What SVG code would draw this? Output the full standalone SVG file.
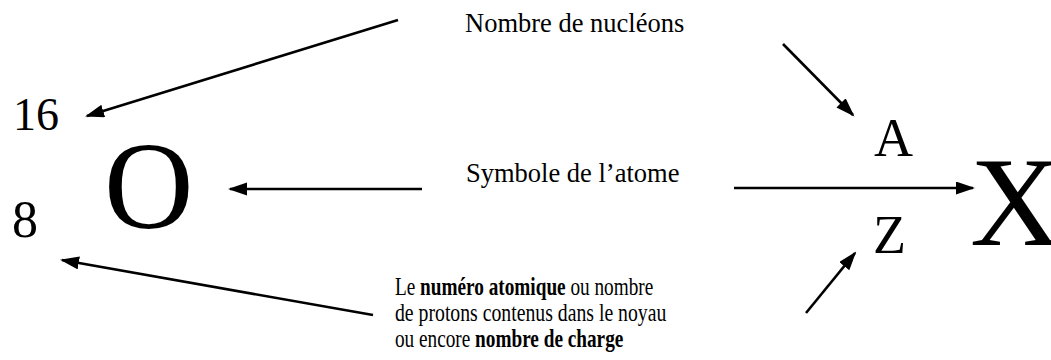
<svg xmlns="http://www.w3.org/2000/svg" width="1051" height="360" viewBox="0 0 1051 360">
  <style>
    text { font-family: "Liberation Serif", "Times New Roman", serif; fill: #000; }
    .lbl { font-size: 26.5px; }
    .small { font-size: 25px; }
    .b { font-weight: bold; }
    .arrow { stroke: #000; stroke-width: 2.6; fill: none; marker-end: url(#ah); }
  </style>
  <defs>
    <marker id="ah" markerUnits="userSpaceOnUse" markerWidth="20" markerHeight="14" refX="17" refY="6.5" orient="auto">
      <path d="M0,0 L19,6.5 L0,13 Z" fill="#000"/>
    </marker>
  </defs>
  <rect width="1051" height="360" fill="#fff"/>

  <g id="oxygen">
    <text x="13" y="130" font-size="46">16</text>
    <text x="12" y="237" font-size="52">8</text>
    <text x="104" y="228" font-size="124">O</text>
  </g>

  <g id="generic">
    <text x="874" y="156" font-size="54">A</text>
    <text x="873" y="253" font-size="54">Z</text>
    <text x="970" y="245" font-size="127">X</text>
  </g>

  <g id="label-nucleons">
    <text class="lbl" x="465" y="32">Nombre de nucléons</text>
  </g>

  <g id="label-symbole">
    <text class="lbl" x="466" y="182">Symbole de l’atome</text>
  </g>

  <g id="label-numero">
    <text class="small" transform="translate(395 295) scale(0.77 1)" x="0" y="0">Le <tspan class="b">numéro atomique</tspan> ou nombre</text>
    <text class="small" transform="translate(395 321) scale(0.79 1)" x="0" y="0">de protons contenus dans le noyau</text>
    <text class="small" transform="translate(395 347) scale(0.77 1)" x="0" y="0">ou encore <tspan class="b">nombre de charge</tspan></text>
  </g>

  <g id="connectors">
    <line class="arrow" x1="398" y1="20" x2="87" y2="116"/>
    <line class="arrow" x1="783" y1="44" x2="853" y2="115"/>
    <line class="arrow" x1="422" y1="189" x2="230" y2="189"/>
    <line class="arrow" x1="734" y1="188" x2="973" y2="188"/>
    <line class="arrow" x1="373" y1="315" x2="62" y2="260"/>
    <line class="arrow" x1="806" y1="313" x2="855" y2="253"/>
  </g>
</svg>
